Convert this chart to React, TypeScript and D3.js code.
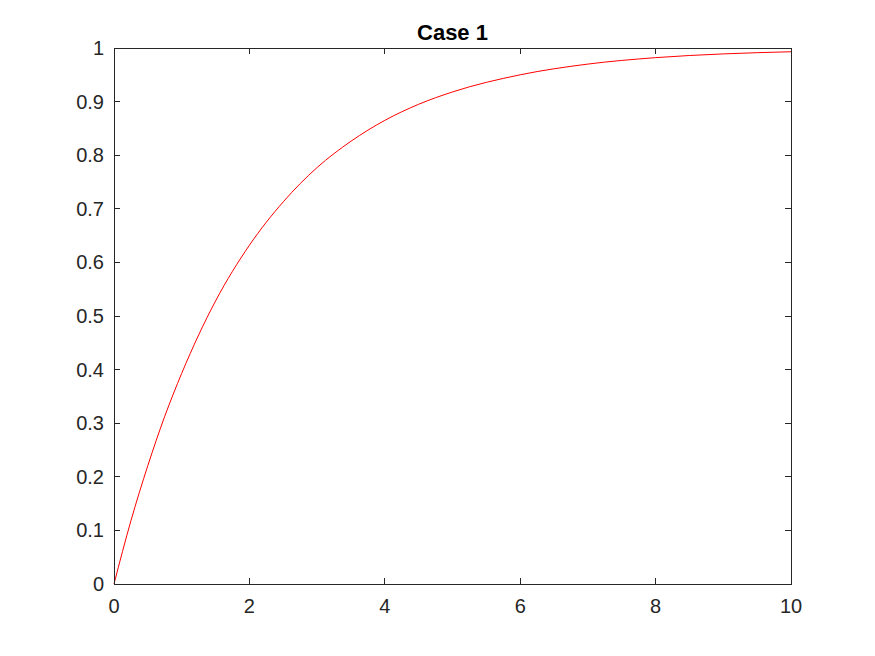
import React from "react";
import * as d3 from "d3";

const tValues = [0, 0.25, 0.5, 0.75, 1, 1.5, 2, 2.5, 3, 3.5, 4, 4.5, 5, 6, 7, 8, 9, 10];
const yValues = [0, 0.118, 0.221, 0.313, 0.393, 0.528, 0.632, 0.713, 0.777, 0.826, 0.865, 0.895, 0.918, 0.950, 0.970, 0.982, 0.989, 0.993];
const xTicks = [0, 2, 4, 6, 8, 10];
const yTicks = [0, 0.1, 0.2, 0.3, 0.4, 0.5, 0.6, 0.7, 0.8, 0.9, 1];
const title = "Case 1";

const W = 875, H = 656;
const L = 114, R = 791, T = 48, B = 584;

export default function App() {
  const x = d3.scaleLinear().domain([0, 10]).range([L, R]);
  const y = d3.scaleLinear().domain([0, 1]).range([B, T]);
  const line = d3.line<number>().x((_, i) => x(tValues[i])).y((d) => y(d)).curve(d3.curveMonotoneX);
  const font = "'Liberation Sans', Arial, Helvetica, sans-serif";
  const ax = "#262626";
  const tl = 6;
  return (
    <svg width={W} height={H} style={{ position: "absolute", left: 0, top: 0, background: "#fff" }}>
      <rect x={0} y={0} width={W} height={H} fill="#fff" />
      <path d={line(yValues) || ""} fill="none" stroke="#ff0000" strokeWidth={1} />
      <rect x={L} y={T} width={R - L} height={B - T} fill="none" stroke={ax} strokeWidth={1} shapeRendering="crispEdges" />
      {xTicks.map((t) => (
        <g key={"x" + t}>
          <line x1={x(t)} x2={x(t)} y1={B} y2={B - tl} stroke={ax} shapeRendering="crispEdges" />
          <line x1={x(t)} x2={x(t)} y1={T} y2={T + tl} stroke={ax} shapeRendering="crispEdges" />
          <text x={x(t)} y={B + 29} textAnchor="middle" fontFamily={font} fontSize={20} fill={ax}>{t}</text>
        </g>
      ))}
      {yTicks.map((t) => (
        <g key={"y" + t}>
          <line x1={L} x2={L + tl} y1={y(t)} y2={y(t)} stroke={ax} shapeRendering="crispEdges" />
          <line x1={R} x2={R - tl} y1={y(t)} y2={y(t)} stroke={ax} shapeRendering="crispEdges" />
          <text x={L - 10} y={y(t)} dy="0.35em" textAnchor="end" fontFamily={font} fontSize={20} fill={ax}>{t}</text>
        </g>
      ))}
      <text x={(L + R) / 2} y={40} textAnchor="middle" fontFamily={font} fontSize={22} fontWeight="bold" fill="#000">{title}</text>
    </svg>
  );
}
